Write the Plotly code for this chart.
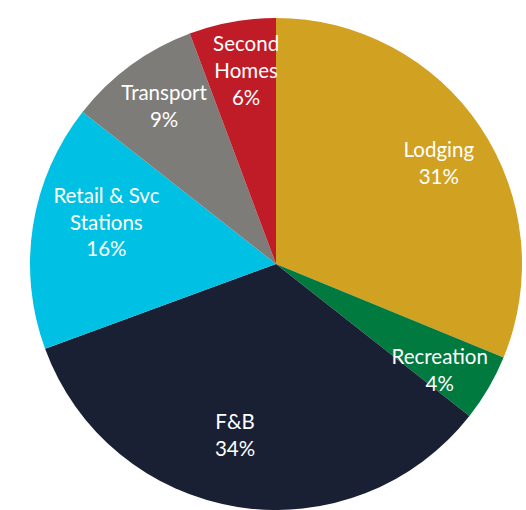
import plotly.graph_objects as go

categories = ["Lodging", "Recreation", "F&B", "Retail & Svc Stations", "Transport", "Second Homes"]
display_labels = ["Lodging", "Recreation", "F&B", "Retail & Svc<br>Stations", "Transport", "Second<br>Homes"]
values = [31.2, 4.4, 33.8, 16.2, 8.7, 5.7]
colors = ["#D1A121", "#007A3E", "#1A2033", "#00C1E3", "#7D7C78", "#C01C27"]

W, H = 526, 510
CX, CY, R = 276, 264, 246  # pie centre / radius in pixels (layout only)


def dom(scale=1.0):
    r = R * scale
    return dict(x=[(CX - r) / W, (CX + r) / W],
                y=[max(0.0, 1 - (CY + r) / H), 1 - (CY - r) / H])


fig = go.Figure(go.Pie(
    labels=categories,
    values=values,
    textinfo="none",
    sort=False,
    direction="clockwise",
    rotation=0,
    marker=dict(colors=colors, line=dict(width=0)),
    domain=dom(1.0),
    hoverinfo="label+percent",
    showlegend=False,
))

# label layers: transparent rings so the library places each label (layout: scale, hole, rotation)
label_layout = {
    "Lodging": (1.0, 0.56, 2),
    "Recreation": (0.9, 0.5, 2.5),
    "F&B": (0.95, 0.5, 4.5),
    "Retail & Svc Stations": (1.0, 0.42, 5),
    "Transport": (1.0, 0.5, 1),
    "Second Homes": (0.94, 0.5, 1.5),
}
for name, (scale, hole, rot) in label_layout.items():
    templates = [f"{lab}<br>%{{percent:.0%}}" if cat == name else ""
                 for cat, lab in zip(categories, display_labels)]
    fig.add_trace(go.Pie(
        labels=categories,
        values=values,
        texttemplate=templates,
        textposition="inside",
        insidetextorientation="horizontal",
        sort=False,
        direction="clockwise",
        rotation=rot,
        hole=hole,
        marker=dict(colors=["rgba(0,0,0,0)"] * len(values), line=dict(width=0)),
        textfont=dict(family="Lato", size=20.5, color="white"),
        domain=dom(scale),
        hoverinfo="skip",
        showlegend=False,
    ))

fig.update_layout(
    width=W, height=H,
    margin=dict(l=0, r=0, t=0, b=0),
    paper_bgcolor="white",
    plot_bgcolor="white",
    uniformtext=dict(minsize=20.5, mode="show"),
)

fig.write_html("out.html", config={"displayModeBar": False},
               post_script="document.body.style.margin='0';")
